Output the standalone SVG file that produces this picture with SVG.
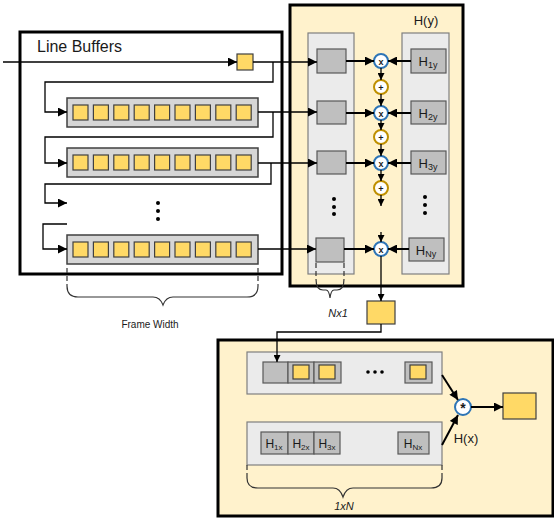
<svg xmlns="http://www.w3.org/2000/svg" width="554" height="519" viewBox="0 0 554 519">
<defs>
<marker id="arr" viewBox="0 0 10 10" markerWidth="10" markerHeight="9" refX="10" refY="5" orient="auto" markerUnits="userSpaceOnUse"><path d="M0,0 L10,5 L0,10 z" fill="#000"/></marker>
<marker id="arrs" viewBox="0 0 10 10" markerWidth="7" markerHeight="7" refX="10" refY="5" orient="auto" markerUnits="userSpaceOnUse"><path d="M0,0 L10,5 L0,10 z" fill="#000"/></marker>
</defs>
<style>
.t{font-family:"Liberation Sans",Arial,sans-serif;fill:#1a1a1a}
.frame{fill:#fff;stroke:#000;stroke-width:3}
.yframe{fill:#FFF2CC;stroke:#000;stroke-width:3}
.row{fill:#D6D6D6;stroke:#404040;stroke-width:1.5}
.col{fill:#EBEBEB;stroke:#7F7F7F;stroke-width:1.2}
.cell{fill:#BFBFBF;stroke:#595959;stroke-width:1.2}
.y{fill:#FFD966;stroke:#404040;stroke-width:1.2}
.ln{fill:none;stroke:#000;stroke-width:1.3}
.lt{fill:none;stroke:#000;stroke-width:2}
.mul{fill:#fff;stroke:#2E75B6;stroke-width:2}
.add{fill:#fff;stroke:#BF9000;stroke-width:2}
.br{fill:none;stroke:#333;stroke-width:1.2}
.dash{fill:none;stroke:#333;stroke-width:1.2;stroke-dasharray:5,3}
</style>

<g id="line-buffers">
<rect class="frame" x="20" y="32" width="262" height="242"/>
<text class="t" x="37" y="52" font-size="16">Line Buffers</text>
<rect class="y" x="237" y="54" width="16" height="16"/>
<g id="row1">
<rect class="row" x="67" y="98" width="191" height="29"/>
<g class="y"><rect x="73" y="105" width="15" height="15"/><rect x="93.4" y="105" width="15" height="15"/><rect x="113.8" y="105" width="15" height="15"/><rect x="134.2" y="105" width="15" height="15"/><rect x="154.6" y="105" width="15" height="15"/><rect x="175" y="105" width="15" height="15"/><rect x="195.4" y="105" width="15" height="15"/><rect x="215.8" y="105" width="15" height="15"/><rect x="236.2" y="105" width="15" height="15"/></g>
</g>
<g id="row2">
<rect class="row" x="67" y="148" width="191" height="29"/>
<g class="y"><rect x="73" y="155" width="15" height="15"/><rect x="93.4" y="155" width="15" height="15"/><rect x="113.8" y="155" width="15" height="15"/><rect x="134.2" y="155" width="15" height="15"/><rect x="154.6" y="155" width="15" height="15"/><rect x="175" y="155" width="15" height="15"/><rect x="195.4" y="155" width="15" height="15"/><rect x="215.8" y="155" width="15" height="15"/><rect x="236.2" y="155" width="15" height="15"/></g>
</g>
<g id="rowN">
<rect class="row" x="67" y="235" width="191" height="29"/>
<g class="y"><rect x="73" y="242" width="15" height="15"/><rect x="93.4" y="242" width="15" height="15"/><rect x="113.8" y="242" width="15" height="15"/><rect x="134.2" y="242" width="15" height="15"/><rect x="154.6" y="242" width="15" height="15"/><rect x="175" y="242" width="15" height="15"/><rect x="195.4" y="242" width="15" height="15"/><rect x="215.8" y="242" width="15" height="15"/><rect x="236.2" y="242" width="15" height="15"/></g>
</g>
<g fill="#000"><circle cx="158" cy="203" r="2"/><circle cx="158" cy="211" r="2"/><circle cx="158" cy="219" r="2"/></g>
</g>

<g id="frame-width">
<path class="dash" d="M67,268 V286"/>
<path class="dash" d="M258,268 V286"/>
<path class="br" d="M67,286 Q67,297 78,297 H153 Q160,297 163,305 Q166,297 173,297 H247 Q258,297 258,286"/>
<text class="t" x="150" y="328" font-size="10" text-anchor="middle">Frame Width</text>
</g>

<g id="hy">
<rect class="yframe" x="290" y="5" width="173" height="281"/>
<text class="t" x="426" y="25" font-size="13" text-anchor="middle">H(y)</text>
<rect class="col" x="308" y="33" width="46" height="241"/>
<rect class="col" x="402" y="33" width="47" height="241"/>
<rect class="cell" x="317" y="49" width="29" height="24"/>
<rect class="cell" x="317" y="101" width="29" height="23"/>
<rect class="cell" x="317" y="151" width="29" height="23"/>
<rect class="cell" x="316" y="238" width="28" height="24"/>
<g fill="#000"><circle cx="334" cy="199" r="2"/><circle cx="334" cy="207" r="2"/><circle cx="334" cy="214" r="2"/><circle cx="425" cy="197" r="2"/><circle cx="425" cy="205" r="2"/><circle cx="425" cy="213" r="2"/></g>
<g id="h1y"><rect class="cell" x="411" y="49" width="35" height="24"/><text class="t" x="428" y="66" font-size="13" text-anchor="middle">H<tspan font-size="9" dy="2">1y</tspan></text></g>
<g id="h2y"><rect class="cell" x="411" y="101" width="35" height="23"/><text class="t" x="428" y="118" font-size="13" text-anchor="middle">H<tspan font-size="9" dy="2">2y</tspan></text></g>
<g id="h3y"><rect class="cell" x="411" y="151" width="35" height="23"/><text class="t" x="428" y="168" font-size="13" text-anchor="middle">H<tspan font-size="9" dy="2">3y</tspan></text></g>
<g id="hny"><rect class="cell" x="409" y="238" width="35" height="23"/><text class="t" x="426" y="255" font-size="13" text-anchor="middle">H<tspan font-size="9" dy="2">Ny</tspan></text></g>
</g>

<g id="nx1">
<path class="dash" d="M316,263 V279"/>
<path class="dash" d="M344,263 V279"/>
<path class="br" d="M316,279 Q316,290 323,290 H326 Q329,290 330,298 Q331,290 334,290 H337 Q344,290 344,279"/>
<text class="t" x="338" y="317" font-size="11" font-style="italic" text-anchor="middle">Nx1</text>
</g>

<g id="ops">
<g class="t" font-size="9" font-weight="bold" text-anchor="middle">
<circle class="mul" cx="381" cy="61" r="7"/><text x="381" y="64.5">x</text>
<circle class="mul" cx="381" cy="113" r="7"/><text x="381" y="116.5">x</text>
<circle class="mul" cx="381" cy="163" r="7"/><text x="381" y="166.5">x</text>
<circle class="mul" cx="381" cy="249" r="7"/><text x="381" y="252.5">x</text>
<circle class="add" cx="381" cy="87" r="7"/><text x="381" y="90.5">+</text>
<circle class="add" cx="381" cy="137" r="7"/><text x="381" y="140.5">+</text>
<circle class="add" cx="381" cy="188" r="7"/><text x="381" y="191.5">+</text>
</g>
</g>

<rect id="out-y" class="y" x="367" y="301" width="28" height="23"/>

<g id="hx-stage">
<rect class="yframe" x="218" y="340" width="335" height="176"/>
<rect class="col" x="247" y="352" width="195" height="42"/>
<rect class="cell" x="263" y="362" width="25" height="21"/>
<rect class="cell" x="288" y="362" width="26" height="21"/>
<rect class="cell" x="314" y="362" width="27" height="21"/>
<rect class="cell" x="405" y="362" width="27" height="21"/>
<rect class="y" x="293" y="365" width="16" height="14"/>
<rect class="y" x="319" y="365" width="16" height="14"/>
<rect class="y" x="410" y="365" width="16" height="14"/>
<g fill="#000"><circle cx="368" cy="372" r="1.8"/><circle cx="375" cy="372" r="1.8"/><circle cx="382" cy="372" r="1.8"/><circle cx="368" cy="443" r="1.8"/><circle cx="375" cy="443" r="1.8"/><circle cx="382" cy="443" r="1.8"/></g>
<rect class="col" x="247" y="422" width="195" height="43"/>
<g id="h1x"><rect class="cell" x="261" y="432" width="27" height="22"/><text class="t" x="274" y="448" font-size="12" text-anchor="middle">H<tspan font-size="8" dy="2">1x</tspan></text></g>
<g id="h2x"><rect class="cell" x="288" y="432" width="26" height="22"/><text class="t" x="301" y="448" font-size="12" text-anchor="middle">H<tspan font-size="8" dy="2">2x</tspan></text></g>
<g id="h3x"><rect class="cell" x="314" y="432" width="26" height="22"/><text class="t" x="327" y="448" font-size="12" text-anchor="middle">H<tspan font-size="8" dy="2">3x</tspan></text></g>
<g id="hnx"><rect class="cell" x="398" y="432" width="31" height="22"/><text class="t" x="413" y="448" font-size="12" text-anchor="middle">H<tspan font-size="8" dy="2">Nx</tspan></text></g>
<g id="conv"><circle class="mul" cx="463" cy="407" r="8"/><text class="t" x="463" y="413" font-size="14" font-weight="bold" text-anchor="middle">*</text></g>
<text class="t" x="466" y="443" font-size="13" text-anchor="middle">H(x)</text>
<rect id="out-x" class="y" x="503" y="393" width="33" height="26"/>
<path class="dash" d="M247,465 V478"/>
<path class="dash" d="M442,465 V478"/>
<path class="br" d="M247,478 Q247,488 258,488 H333 Q340,488 343,497 Q346,488 353,488 H431 Q442,488 442,478"/>
<text class="t" x="344" y="510" font-size="11" font-style="italic" text-anchor="middle">1xN</text>
</g>

<g id="connectors">
<path class="ln" d="M3,62 H237" marker-end="url(#arr)"/>
<path class="ln" d="M253,62 H317" marker-end="url(#arr)"/>
<path class="ln" d="M273,62 V82 H45 V112 H67" marker-end="url(#arr)"/>
<path class="ln" d="M258,112 H317" marker-end="url(#arr)"/>
<path class="ln" d="M273,112 V137 H45 V163 H67" marker-end="url(#arr)"/>
<path class="ln" d="M258,163 H317" marker-end="url(#arr)"/>
<path class="ln" d="M271,163 V184 H45 V203 H67" marker-end="url(#arr)"/>
<path class="ln" d="M67,224 H43 V249 H67" marker-end="url(#arr)"/>
<path class="ln" d="M258,249 H316" marker-end="url(#arr)"/>
<path class="lt" d="M346,61 H374" marker-end="url(#arr)"/>
<path class="lt" d="M346,113 H374" marker-end="url(#arr)"/>
<path class="lt" d="M346,163 H374" marker-end="url(#arr)"/>
<path class="lt" d="M344,249 H374" marker-end="url(#arr)"/>
<path class="lt" d="M411,61 H388" marker-end="url(#arr)"/>
<path class="lt" d="M411,113 H388" marker-end="url(#arr)"/>
<path class="lt" d="M411,163 H388" marker-end="url(#arr)"/>
<path class="lt" d="M409,249 H388" marker-end="url(#arr)"/>
<path class="ln" d="M381,68 V80" marker-end="url(#arrs)"/>
<path class="ln" d="M381,94 V106" marker-end="url(#arrs)"/>
<path class="ln" d="M381,120 V130" marker-end="url(#arrs)"/>
<path class="ln" d="M381,144 V156" marker-end="url(#arrs)"/>
<path class="ln" d="M381,170 V181" marker-end="url(#arrs)"/>
<path class="ln" d="M381,195 V206" marker-end="url(#arrs)"/>
<path class="ln" d="M381,232 V242" marker-end="url(#arrs)"/>
<path class="ln" d="M381,256 V301" marker-end="url(#arrs)"/>
<path class="ln" d="M381,324 V332 H277 V362" marker-end="url(#arrs)"/>
<path class="lt" d="M442,375 L458,400" marker-end="url(#arr)"/>
<path class="lt" d="M442,445 L458,415" marker-end="url(#arr)"/>
<path class="lt" d="M471,407 H503" marker-end="url(#arr)"/>
</g>
</svg>
